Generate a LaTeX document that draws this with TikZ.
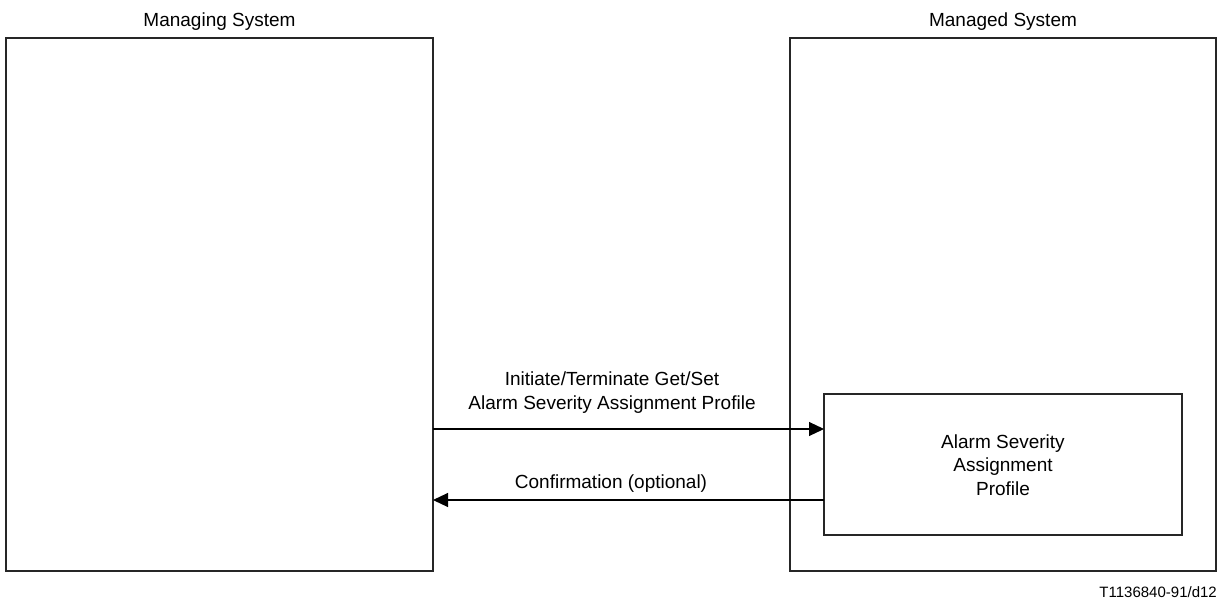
\documentclass[tikz,border=0pt]{standalone}
\usepackage{fontspec}
\setmainfont{Liberation Sans}
\usetikzlibrary{arrows.meta}
\begin{document}
\begin{tikzpicture}[x=1pt,y=-1pt,
  sysbox/.style={draw=black!85,line width=1.3pt,inner sep=0pt,outer sep=0pt,rectangle},
  lbl/.style={font=\fontsize{19}{23.5}\selectfont,inner sep=0pt,anchor=base,align=center},
  msg/.style={line width=1.1pt,-{Triangle[length=15pt,width=14pt]}}]
\useasboundingbox (0,0) rectangle (1218,603);
% the two systems
\node[sysbox,minimum width=427pt,minimum height=533pt] (mgr) at (219.5,304.5) {};
\node[sysbox,minimum width=426pt,minimum height=533pt] (agt) at (1003,304.5) {};
\node[lbl] (mgrT) at (219.5,26.7) {Managing System};
\node[lbl] (agtT) at (1003,26.7) {Managed System};
% profile object inside the managed system (base = last line)
\node[sysbox,line width=1.1pt,minimum width=358pt,minimum height=141pt] (prof) at (1003,464.5) {};
\node[lbl] (profT) at (1003,495) {Alarm Severity\\Assignment\\Profile};
% request and confirmation
\coordinate (r1) at (0,429);
\coordinate (r2) at (0,500);
\draw[msg] (mgr.east |- r1) -- (prof.west |- r1);
\draw[msg] (prof.west |- r2) -- (mgr.east |- r2);
\node[lbl] (reqT) at (612,409) {Initiate/Terminate Get/Set\\Alarm Severity Assignment Profile};
\node[lbl] (cnfT) at (611,488) {Confirmation (optional)};
% figure reference
\node[font=\fontsize{15}{18}\selectfont,inner sep=0pt,anchor=base east] (ref) at (1217,597) {T1136840-91/d12};
\end{tikzpicture}
\end{document}
